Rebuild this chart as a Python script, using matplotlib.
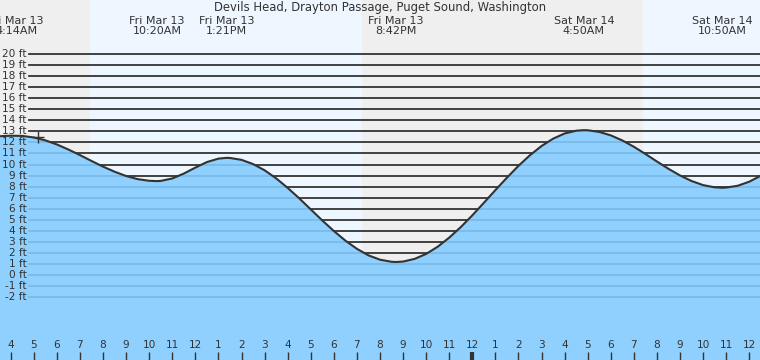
import matplotlib
matplotlib.use("Agg")
import matplotlib.pyplot as plt
from matplotlib.transforms import blended_transform_factory

# ---- data (hours since Fri Mar 13 00:00, tide height in ft) ----
hours = [3.5, 4.0, 4.5, 5.0, 5.5, 6.0, 6.5, 7.0, 7.5, 8.0, 8.5, 9.0, 9.5, 10.0, 10.333,
         10.5, 11.0, 11.5, 12.0, 12.5, 13.0, 13.35,
         13.5, 14.0, 14.5, 15.0, 15.5, 16.0, 16.5, 17.0, 17.5, 18.0, 18.5, 19.0, 19.5, 20.0, 20.5, 20.7,
         21.0, 21.5, 22.0, 22.5, 23.0, 23.5, 24.0, 24.5, 25.0, 25.5, 26.0, 26.5, 27.0, 27.5, 28.0, 28.5, 28.833,
         29.0, 29.5, 30.0, 30.5, 31.0, 31.5, 32.0, 32.5, 33.0, 33.5, 34.0, 34.5, 34.833,
         35.0, 35.5, 36.0, 36.5]
heights = [12.55, 12.6, 12.58, 12.44, 12.18, 11.81, 11.35, 10.85, 10.32, 9.81, 9.35, 8.96, 8.68, 8.53, 8.5,
           8.52, 8.74, 9.18, 9.72, 10.22, 10.53, 10.6,
           10.59, 10.42, 10.04, 9.48, 8.75, 7.89, 6.95, 5.95, 4.95, 4.0, 3.13, 2.39, 1.8, 1.41, 1.22, 1.2,
           1.24, 1.48, 1.93, 2.58, 3.4, 4.35, 5.41, 6.54, 7.69, 8.81, 9.88, 10.84, 11.67, 12.33, 12.8, 13.05, 13.1,
           13.09, 12.94, 12.63, 12.17, 11.6, 10.95, 10.27, 9.61, 9.01, 8.51, 8.14, 7.94, 7.9,
           7.92, 8.08, 8.45, 8.99]

ext_hours = [4.233, 10.333, 13.35, 20.7, 28.833, 34.833]
ext_labels = ["Fri Mar 13\n4:14AM", "Fri Mar 13\n10:20AM", "Fri Mar 13\n1:21PM",
              "Fri Mar 13\n8:42PM", "Sat Mar 14\n4:50AM", "Sat Mar 14\n10:50AM"]

day_spans = [(7.43, 19.22), (31.38, 37.0)]
night_spans = [(3.0, 7.43), (19.22, 31.38)]

ft_levels = list(range(-2, 21))
ft_labels = [f"{v} ft" for v in ft_levels]

tick_hours = list(range(4, 37))
tick_labels = [str((h - 1) % 12 + 1) for h in tick_hours]

now_hour, now_height = 5.17, 12.45

title = "Devils Head, Drayton Passage, Puget Sound, Washington"

# ---- figure ----
W, H = 760, 360
fig = plt.figure(figsize=(W / 100, H / 100), dpi=100)
ax = fig.add_axes([0, 0, 1, 1])
x0, x1 = 3.536, 3.536 + W / 23.08
ax.set_xlim(x0, x1)
y_top = 275.3 / 11.08
y_bot = (275.3 - H) / 11.08
ax.set_ylim(y_bot, y_top)
ax.axis("off")

night_c = "#efefef"
day_c = "#eef7ff"
fill_c = "#8fd0ff"
line_blue = "#79b9e8"
dark = "#333333"

for a, b in night_spans:
    ax.axvspan(a, b, color=night_c, lw=0, zorder=0)
for a, b in day_spans:
    ax.axvspan(a, b, color=day_c, lw=0, zorder=0)

xmin_frac = 29 / W
for v in ft_levels:
    ax.axhline(v, xmin=xmin_frac, xmax=1, color=dark, lw=1.3, zorder=1)

pc = ax.fill_between(hours, heights, y_bot, color=fill_c, lw=0, zorder=2)
clip_path = pc.get_paths()[0]
for v in ft_levels:
    ln = ax.axhline(v, xmin=xmin_frac, xmax=1, color=line_blue, lw=1.2, zorder=3)
    ln.set_clip_path(clip_path, ax.transData)

ax.plot(hours, heights, color=dark, lw=1.5, zorder=4, solid_capstyle="round")
ax.plot([now_hour], [now_height], marker="+", color=dark, ms=9, mew=1.0, zorder=5)

fs = 7.6
bt = blended_transform_factory(ax.transAxes, ax.transData)
for v, lab in zip(ft_levels, ft_labels):
    ax.text(27 / W, v, lab, transform=bt, ha="right", va="center",
            fontsize=fs, color=dark, zorder=6)

tt = blended_transform_factory(ax.transData, ax.transAxes)
for h, lab in zip(tick_hours, tick_labels):
    lw = 3.0 if h == 24 else 1.0
    ax.plot([h, h], [0, 8 / H], transform=tt, color=dark, lw=lw, zorder=6,
            solid_capstyle="butt")
    ax.text(h, 1 - 345.5 / H, lab, transform=tt, ha="center", va="center",
            fontsize=fs, color=dark, zorder=6)

for h, lab in zip(ext_hours, ext_labels):
    ax.text(h, 1 - 26 / H, lab, transform=tt, ha="center", va="center",
            fontsize=fs + 0.4, color=dark, linespacing=1.0, multialignment="center",
            zorder=6)

ax.text(0.5, 1 - 8 / H, title, transform=ax.transAxes, ha="center", va="center",
        fontsize=8.4, color=dark, zorder=6)

fig.savefig("out.png", dpi=100)
